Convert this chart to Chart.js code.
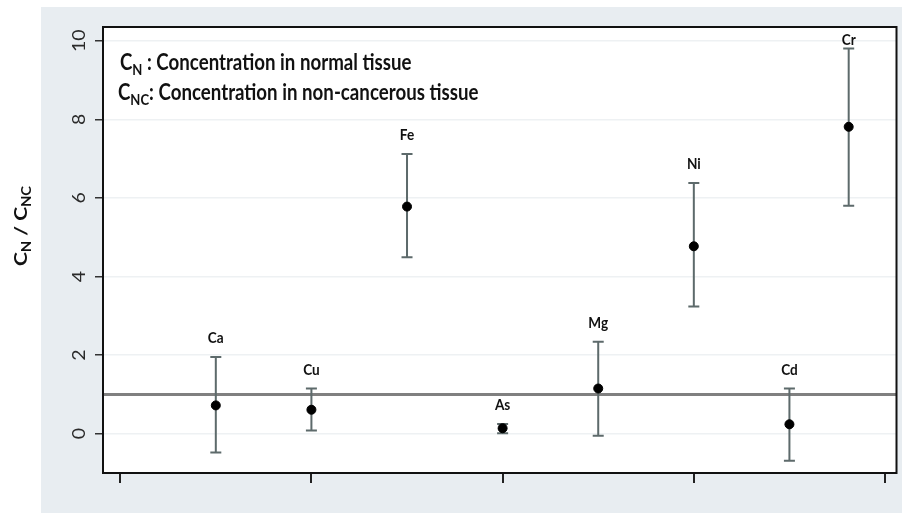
<!DOCTYPE html>
<html>
<head>
<meta charset="utf-8">
<script src="https://cdn.jsdelivr.net/npm/chart.js@4/dist/chart.umd.min.js"></script>
<style>
  html, body { margin: 0; padding: 0; background: #fff; }
  #wrap { width: 902px; height: 513px; position: relative; }
</style>
</head>
<body>
<div id="wrap"><canvas id="chart"></canvas></div>
<script>
// values (ratio C_N / C_NC, dot = mean, bar = interval)
const elementNames = ["Ca", "Cu", "Fe", "As", "Mg", "Ni", "Cd", "Cr"];
const xPositions = [1, 2, 3, 4, 5, 6, 7, 7.62];
const ratioMeans = [0.72, 0.61, 5.78, 0.14, 1.15, 4.77, 0.24, 7.81];
const ratioLower = [-0.48, 0.08, 4.49, 0.01, -0.05, 3.24, -0.69, 5.8];
const ratioUpper = [1.95, 1.15, 7.12, 0.25, 2.34, 6.38, 1.15, 9.8];
const yTickValues = [0, 2, 4, 6, 8, 10];
const xTickValues = [0, 2, 4, 6, 8];
const referenceLevel = 1;

const FONT = "Lato, 'Open Sans', sans-serif";
const SX = 0.85; // picture is squeezed sideways, so text looks narrow

// draw text made of parts, some of them subscript
function drawParts(ctx, parts, x, y, size, opts) {
  opts = opts || {};
  ctx.save();
  ctx.translate(x, y);
  ctx.scale(SX, 1);
  if (opts.rotate) ctx.rotate(-Math.PI / 2);
  ctx.fillStyle = opts.color || "#111";
  ctx.textBaseline = "alphabetic";
  ctx.textAlign = "left";
  const weight = opts.bold ? "bold " : "";
  let total = 0;
  parts.forEach((p) => {
    ctx.font = weight + (p.sub ? size * 0.7 : size) + "px " + FONT;
    total += ctx.measureText(p.t).width;
  });
  let cx = opts.center ? -total / 2 : 0;
  parts.forEach((p) => {
    ctx.font = weight + (p.sub ? size * 0.7 : size) + "px " + FONT;
    ctx.fillText(p.t, cx, p.sub ? size * 0.22 : 0);
    cx += ctx.measureText(p.t).width;
  });
  ctx.restore();
}

const decorPlugin = {
  id: "decor",
  beforeDraw(chart) {
    const { ctx, chartArea: a } = chart;
    ctx.save();
    ctx.fillStyle = "#ffffff";
    ctx.fillRect(0, 0, chart.width, chart.height);
    ctx.fillStyle = "#e8edf1";
    ctx.fillRect(41, 7, chart.width - 41, chart.height - 7);
    ctx.fillStyle = "#ffffff";
    ctx.fillRect(a.left, a.top, a.right - a.left, a.bottom - a.top);
    ctx.restore();
  },
  beforeDatasetsDraw(chart) {
    const { ctx, chartArea: a } = chart;
    const xs = chart.scales.x;
    const ys = chart.scales.y;
    ctx.save();
    // reference line at ratio 1
    const yr = ys.getPixelForValue(referenceLevel);
    ctx.strokeStyle = "#808080";
    ctx.lineWidth = 3;
    ctx.beginPath();
    ctx.moveTo(a.left, yr);
    ctx.lineTo(a.right, yr);
    ctx.stroke();
    // error bars
    ctx.strokeStyle = "#5d6a6b";
    ctx.lineWidth = 2;
    xPositions.forEach((xv, i) => {
      const px = xs.getPixelForValue(xv);
      const lo = ys.getPixelForValue(ratioLower[i]);
      const hi = ys.getPixelForValue(ratioUpper[i]);
      ctx.beginPath();
      ctx.moveTo(px, lo);
      ctx.lineTo(px, hi);
      ctx.moveTo(px - 5.5, lo);
      ctx.lineTo(px + 5.5, lo);
      ctx.moveTo(px - 5.5, hi);
      ctx.lineTo(px + 5.5, hi);
      ctx.stroke();
    });
    ctx.restore();
  },
  afterDraw(chart) {
    const { ctx, chartArea: a } = chart;
    const xs = chart.scales.x;
    const ys = chart.scales.y;
    // frame
    ctx.save();
    ctx.strokeStyle = "#111";
    ctx.lineWidth = 2;
    ctx.strokeRect(a.left, a.top, a.right - a.left, a.bottom - a.top);
    ctx.restore();

    // element names over the bars
    xPositions.forEach((xv, i) => {
      const px = xs.getPixelForValue(xv);
      let py = ys.getPixelForValue(ratioUpper[i]) - 14;
      py = Math.max(py, a.top + 18);
      drawParts(ctx, [{ t: elementNames[i] }], px, py, 16, { bold: true, center: true });
    });

    // y tick labels, turned like the original
    ys.ticks.forEach((t) => {
      const py = ys.getPixelForValue(t.value);
      drawParts(ctx, [{ t: String(t.value) }], 85, py, 19.5, { rotate: true, center: true, color: "#2a2a2a" });
    });

    // y title
    drawParts(
      ctx,
      [{ t: "C" }, { t: "N", sub: true }, { t: " / " }, { t: "C" }, { t: "NC", sub: true }],
      27, 226, 21,
      { rotate: true, center: true, bold: true }
    );

    // key text
    drawParts(ctx, [{ t: "C" }, { t: "N", sub: true }, { t: " : Concentration in normal tissue" }], 120, 70, 22, { bold: true });
    drawParts(ctx, [{ t: "C" }, { t: "NC", sub: true }, { t: ": Concentration in non-cancerous tissue" }], 118, 100, 22, { bold: true });
  },
};

new Chart(document.getElementById("chart"), {
  type: "scatter",
  data: {
    datasets: [
      {
        data: xPositions.map((x, i) => ({ x: x, y: ratioMeans[i] })),
        backgroundColor: "#000",
        borderColor: "#000",
        pointRadius: 4.5,
        pointHoverRadius: 4.5,
      },
    ],
  },
  options: {
    responsive: true,
    maintainAspectRatio: false,
    animation: false,
    layout: { padding: { top: 27, right: 4, left: 0, bottom: 0 } },
    plugins: { legend: { display: false }, tooltip: { enabled: false } },
    scales: {
      x: {
        type: "linear",
        min: -0.18,
        max: 8.12,
        afterBuildTicks: (s) => { s.ticks = xTickValues.map((v) => ({ value: v })); },
        afterFit: (s) => { s.height = 40; },
        border: { display: false },
        grid: { drawOnChartArea: false, drawTicks: true, tickLength: 10, tickColor: "#222", lineWidth: 2 },
        ticks: { display: false },
      },
      y: {
        min: -1.0,
        max: 10.35,
        afterBuildTicks: (s) => { s.ticks = yTickValues.map((v) => ({ value: v })); },
        afterFit: (s) => { s.width = 103; },
        border: { display: false },
        grid: { color: "#eef1f3", drawTicks: true, tickLength: 8, tickColor: "#333", lineWidth: 1.5 },
        ticks: { display: false },
      },
    },
  },
  plugins: [decorPlugin],
});
</script>
</body>
</html>
